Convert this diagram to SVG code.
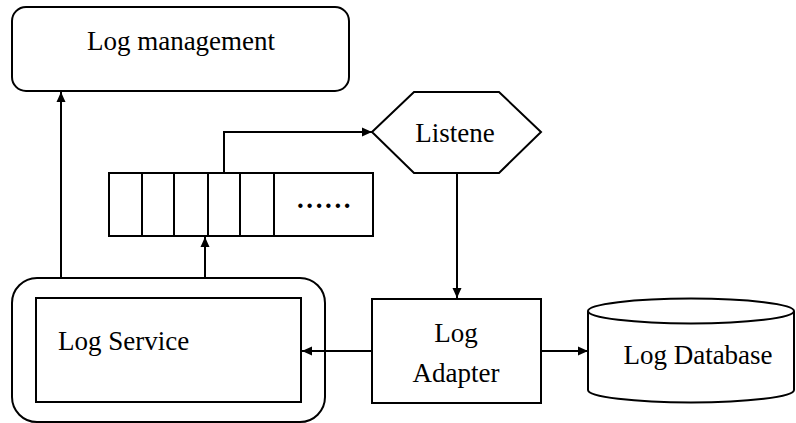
<svg xmlns="http://www.w3.org/2000/svg" width="796" height="423" viewBox="0 0 796 423">
<style>
.s{fill:#fff;stroke:#000;stroke-width:2}
.t{font-family:"Liberation Serif","Times New Roman",serif;font-size:27px;fill:#000}
.c{fill:none;stroke:#000;stroke-width:2}
</style>
<defs>
<marker id="ah" markerUnits="userSpaceOnUse" markerWidth="10" markerHeight="10" refX="10" refY="5" orient="auto">
<path d="M0,0.5 L10,5 L0,9.5 z" fill="#000"/>
</marker>
</defs>
<rect width="796" height="423" fill="#fff"/>
<g id="log-management">
<rect class="s" x="12" y="7" width="337" height="84" rx="14"/>
<text class="t" x="181" y="50" text-anchor="middle">Log management</text>
</g>
<g id="queue">
<rect class="s" x="109" y="173" width="264" height="63"/>
<path class="c" d="M142,173V236M174,173V236M208,173V236M240,173V236M274,173V236"/>
<text class="t" x="297" y="208" font-weight="bold" letter-spacing="2.6">......</text>
</g>
<g id="listene">
<polygon class="s" points="372,132 414,92 499,92 541,132 499,173 414,173"/>
<text class="t" x="455" y="142" text-anchor="middle">Listene</text>
</g>
<g id="log-service">
<rect class="s" x="12" y="278" width="313" height="144" rx="25"/>
<rect class="s" x="36" y="298" width="265" height="104"/>
<text class="t" x="58" y="350">Log Service</text>
</g>
<g id="log-adapter">
<rect class="s" x="372" y="299" width="169" height="104"/>
<text class="t" x="456" y="342" text-anchor="middle">Log</text>
<text class="t" x="456" y="382" text-anchor="middle">Adapter</text>
</g>
<g id="log-database">
<path class="s" d="M588,311 V390 A103,12.5 0 0 0 794,390 V311"/>
<ellipse class="s" cx="691" cy="311" rx="103" ry="12.5"/>
<text class="t" x="698" y="364" text-anchor="middle">Log Database</text>
</g>
<g id="connectors">
<path class="c" d="M61,278 V92" marker-end="url(#ah)"/>
<path class="c" d="M205,278 V237" marker-end="url(#ah)"/>
<path class="c" d="M224,173 V132 H372" marker-end="url(#ah)"/>
<path class="c" d="M457,173 V298" marker-end="url(#ah)"/>
<path class="c" d="M372,351 H302" marker-end="url(#ah)"/>
<path class="c" d="M541,351 H588" marker-end="url(#ah)"/>
</g>
</svg>
